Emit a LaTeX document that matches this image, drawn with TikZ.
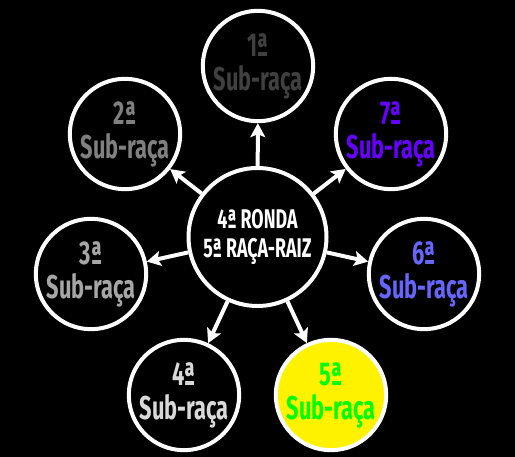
\documentclass[tikz,border=0pt]{standalone}
\usepackage{fontspec}
\setmainfont{Fira Sans}[FakeStretch=0.66]
\usetikzlibrary{arrows.meta, positioning}
\definecolor{raceOne}{HTML}{404040}
\definecolor{raceTwo}{HTML}{808080}
\definecolor{raceThree}{HTML}{A6A6A6}
\definecolor{raceFour}{HTML}{D9D9D9}
\definecolor{raceFive}{HTML}{00FF00}
\definecolor{raceSix}{HTML}{6666FF}
\definecolor{raceSeven}{HTML}{6600FF}
\tikzset{
    raceNode/.style={circle, draw=white, fill=black, line width=4pt, inner sep=0pt, minimum size=110pt, align=center, font=\bfseries\fontsize{33}{34}\selectfont},
    rootNode/.style={circle, draw=white, fill=black, line width=4pt, inner sep=0pt, minimum size=138pt, align=center, text=white, font=\bfseries\fontsize{27}{29}\selectfont},
    raceEdge/.style={-{Stealth[length=14pt, width=15pt, inset=3pt]}, draw=white, fill=white, line width=4pt},
}
\newcommand{\drawBranch}[2]{
    \draw[raceEdge] (#1) -- (#2);
}
\begin{document}
\begin{tikzpicture}[x=1pt, y=-1pt]
        \fill[black] (0,0) rectangle (515,457);
        \useasboundingbox (0,0) rectangle (515,457);

        \node[rootNode] (root) at (257.5, 237) {4ª RONDA\\5ª RAÇA-RAIZ};

        \node[raceNode, text=raceOne] (r1) at (258, 66) {1ª\\Sub-raça};
        \node[raceNode, text=raceTwo] (r2) at (125, 134) {2ª\\Sub-raça};
        \node[raceNode, text=raceThree] (r3) at (91, 274) {3ª\\Sub-raça};
        \node[raceNode, text=raceFour] (r4) at (184, 395) {4ª\\Sub-raça};
        \node[raceNode, text=raceFive, fill=yellow] (r5) at (331, 395) {5ª\\Sub-raça};
        \node[raceNode, text=raceSix] (r6) at (424, 274) {6ª\\Sub-raça};
        \node[raceNode, text=raceSeven] (r7) at (391, 134) {7ª\\Sub-raça};

        \drawBranch{root}{r1}
        \drawBranch{root}{r2}
        \drawBranch{root}{r3}
        \drawBranch{root}{r4}
        \drawBranch{root}{r5}
        \drawBranch{root}{r6}
        \drawBranch{root}{r7}

    \end{tikzpicture}
\end{document}
